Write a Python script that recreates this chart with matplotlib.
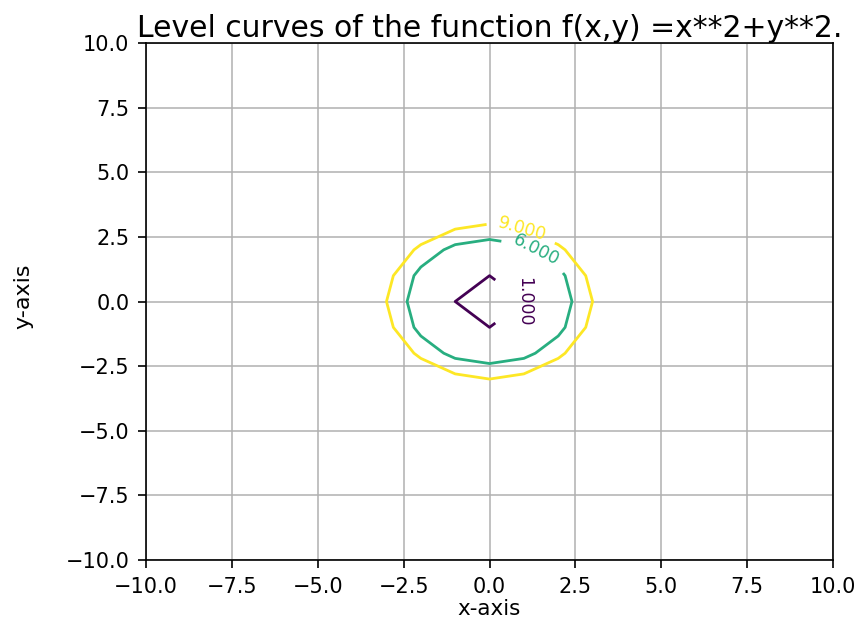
import numpy as np
import matplotlib
matplotlib.use("Agg")
import matplotlib.pyplot as plt

# grid of the function f(x,y) = x**2 + y**2 on [-10, 10]
x = np.arange(-10, 11, 1)
y = np.arange(-10, 11, 1)
levels = [1, 6, 9]
# where the level labels sit (level 1, 6, 9)
label_spots = [(1.0, 0.0), (1.35, 2.0), (0.95, 2.85)]
title = "Level curves of the function f(x,y) =x**2+y**2."

X, Y = np.meshgrid(x, y)
Z = X**2 + Y**2

fig = plt.figure(figsize=(8.62, 6.19), dpi=100)
ax = fig.add_axes([0.1694, 0.0953, 0.797, 0.8352])

cs = ax.contour(X, Y, Z, levels=levels, cmap="viridis", linewidths=2.0)
labels = ax.clabel(cs, inline=True, fontsize=12.5, fmt="%1.3f",
                   manual=label_spots, inline_spacing=11)
# the level 1 label reads top to bottom
for t in labels:
    if t.get_text() == "1.000":
        t.set_rotation(-90)

ax.set_xlim(-10, 10)
ax.set_ylim(-10, 10)
ax.set_xticks(np.arange(-10, 10.1, 2.5))
ax.set_yticks(np.arange(-10, 10.1, 2.5))
ax.tick_params(labelsize=15, width=1.2, length=6, pad=6)
ax.grid(True, color="#b0b0b0", linewidth=1.1)
for s in ax.spines.values():
    s.set_linewidth(1.2)

ax.set_title(title, fontsize=21.5, pad=3)
ax.set_xlabel("x-axis", fontsize=15.5, va="center")
ax.xaxis.set_label_coords(0.5, -0.094)
ax.set_ylabel("y-axis", fontsize=16, va="center")
ax.yaxis.set_label_coords(-0.178, 0.51)

fig.savefig("out.png", dpi=100)
